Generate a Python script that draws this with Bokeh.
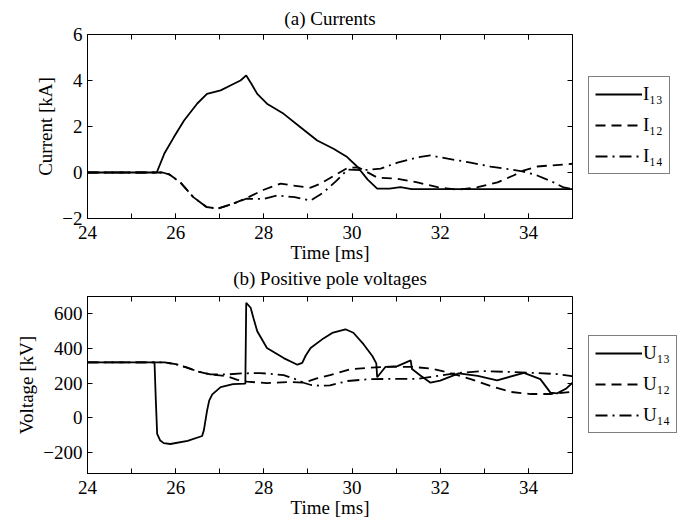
from bokeh.plotting import figure
from bokeh.models import (Range1d, LinearAxis, FixedTicker, CustomJSTickFormatter,
                          Legend, LegendItem, Title)
from bokeh.layouts import column, row
from bokeh.embed import file_html
from bokeh.resources import INLINE

# ---------------- data ----------------
# (a) Currents [kA]
t_i13 = [24, 25.57, 25.75, 25.96, 26.19, 26.49, 26.71, 27.02, 27.32, 27.47, 27.6, 27.72,
         27.85, 28.07, 28.45, 28.83, 29.21, 29.58, 29.89, 30.12, 30.35, 30.57, 30.85,
         31.1, 31.35, 35]
i13 = [0, 0, 0.85, 1.54, 2.26, 3.0, 3.42, 3.57, 3.86, 4.0, 4.22, 3.85,
       3.42, 2.99, 2.55, 1.97, 1.39, 1.03, 0.67, 0.25, -0.3, -0.7, -0.7,
       -0.64, -0.72, -0.72]

t_i12 = [24, 25.7, 25.85, 26.1, 26.4, 26.7, 26.95, 27.3, 27.6, 28.0, 28.38, 28.67, 29.06,
         29.3, 29.6, 29.9, 30.15, 30.57, 31.03, 31.48, 31.94, 32.39, 32.85, 33.3, 33.66,
         33.9, 34.2, 34.8, 35]
i12 = [0, 0, -0.08, -0.42, -1.07, -1.5, -1.57, -1.36, -1.12, -0.75, -0.48, -0.57, -0.66,
       -0.47, -0.13, 0.2, 0.22, -0.22, -0.27, -0.43, -0.64, -0.75, -0.64, -0.43, -0.13,
       0.09, 0.26, 0.35, 0.38]

t_i14 = [24, 25.7, 25.85, 26.1, 26.4, 26.7, 26.95, 27.3, 27.6, 28.0, 28.3, 28.7, 29.06,
         29.35, 29.65, 29.9, 30.25, 30.65, 31.03, 31.55, 31.78, 32.17, 32.69, 33.14, 33.6,
         33.89, 34.2, 34.57, 34.8, 35]
i14 = [0, 0, -0.08, -0.42, -1.07, -1.5, -1.57, -1.36, -1.14, -1.15, -1.0, -1.07, -1.22,
       -0.87, -0.35, 0.13, 0.1, 0.17, 0.43, 0.68, 0.74, 0.6, 0.43, 0.26, 0.13,
       0.04, -0.13, -0.43, -0.65, -0.72]

# (b) Positive pole voltages [kV]
t_u13 = [24, 25.52, 25.55, 25.58, 25.65, 25.73, 25.88, 26.27, 26.6, 26.64, 26.71, 26.76,
         26.83, 27.02, 27.3, 27.58, 27.6, 27.7, 27.77, 27.85, 28.07, 28.45, 28.76, 28.87,
         28.95, 29.06, 29.36, 29.55, 29.85, 30.03, 30.26, 30.46, 30.55, 30.57, 30.76,
         31.03, 31.33, 31.36, 31.55, 31.78, 32.0, 32.42, 32.85, 33.29, 33.9, 34.27, 34.5,
         34.65, 34.85, 35]
u13 = [320, 320, 100, -92, -130, -145, -150, -132, -104, -70, 40, 100,
       136, 178, 195, 198, 664, 635, 570, 500, 403, 345, 307, 317,
       360, 403, 460, 490, 511, 491, 425, 357, 315, 235, 295,
       299, 332, 282, 245, 203, 215, 257, 242, 217, 260, 224, 146,
       142, 168, 203]

t_u12 = [24, 25.75, 26.0, 26.26, 26.5, 26.79, 27.0, 27.17, 27.4, 27.62, 28.07, 28.6, 28.9,
         29.2, 29.5, 29.96, 30.4, 30.87, 31.33, 31.78, 32.23, 32.69, 33.14, 33.6, 34.05,
         34.5, 34.95, 35]
u12 = [320, 320, 310, 290, 268, 251, 245, 240, 220, 209, 201, 207, 203,
       228, 247, 280, 290, 295, 295, 285, 259, 224, 184, 150, 138,
       138, 150, 152]

t_u14 = [24, 25.75, 26.0, 26.26, 26.5, 26.79, 27.17, 27.5, 27.92, 28.45, 28.7, 28.9, 29.07,
         29.3, 29.5, 29.9, 30.4, 30.87, 31.48, 31.94, 32.39, 32.98, 33.6, 34.2, 34.65,
         34.95, 35]
u14 = [320, 320, 310, 290, 268, 251, 251, 257, 259, 247, 225, 203, 190,
       185, 188, 213, 224, 225, 225, 242, 259, 270, 265, 259, 253,
       242, 240]

x_major = [24, 26, 28, 30, 32, 34]
x_minor = [24, 25, 26, 27, 28, 29, 30, 31, 32, 33, 34, 35]
yticks_a = [-2, 0, 2, 4, 6]
yticks_b = [-200, 0, 200, 400, 600]
labels_a = ["I\u2081\u2083", "I\u2081\u2082", "I\u2081\u2084"]
labels_b = ["U\u2081\u2083", "U\u2081\u2082", "U\u2081\u2084"]
title_a = "(a) Currents"
title_b = "(b) Positive pole voltages"

FONT = "Liberation Serif"
FS = "19px"
MAIN_W = 577      # frame from x=87 to x=572
LEG_W = 110
NAN = float("nan")

MINUS_FMT = "return tick < 0 ? '\\u2212' + String(-tick) : String(tick);"
EMPTY_FMT = "return '';"

LW = 1.8
STYLES = [dict(line_color="black", line_width=LW),
          dict(line_color="black", line_width=LW, line_dash="10 6"),
          dict(line_color="black", line_width=LW, line_dash="12 5 2 5")]


def style_axis(ax, labels=True):
    ax.axis_line_color = "black"
    ax.axis_line_width = 1
    ax.major_tick_line_color = "black"
    ax.minor_tick_line_color = "black"
    ax.major_tick_in = 5
    ax.major_tick_out = 0
    ax.minor_tick_in = 5
    ax.minor_tick_out = 0
    ax.major_label_text_font = FONT
    ax.major_label_text_font_size = FS
    ax.major_label_text_color = "black"
    ax.axis_label_text_font = FONT
    ax.axis_label_text_font_size = FS
    ax.axis_label_text_font_style = "normal"
    ax.axis_label_text_color = "black"
    if not labels:
        ax.formatter = CustomJSTickFormatter(code=EMPTY_FMT)
        ax.major_label_text_font_size = "0px"
        ax.major_label_standoff = 0


def make_title(text, standoff):
    return Title(text=text, align="center", text_font=FONT, text_font_size=FS,
                 text_font_style="normal", text_color="black", standoff=standoff, offset=0)


def make_fig(height, top, bottom, yr, yticks, ylabel, label_standoff):
    p = figure(width=MAIN_W, height=height, output_backend="svg", toolbar_location=None,
               x_range=Range1d(24, 35), y_range=Range1d(*yr),
               min_border_left=87, min_border_right=MAIN_W - 572,
               min_border_top=top, min_border_bottom=bottom,
               x_axis_label="Time [ms]", y_axis_label=ylabel)
    p.xgrid.visible = False
    p.ygrid.visible = False
    p.outline_line_color = "black"
    p.outline_line_width = 1
    p.background_fill_color = "white"
    p.border_fill_color = "white"

    xa = p.xaxis[0]
    xa.ticker = FixedTicker(ticks=x_major, minor_ticks=x_minor)
    style_axis(xa)
    xa.major_label_standoff = 7
    xa.axis_label_standoff = label_standoff

    ya = p.yaxis[0]
    ya.ticker = FixedTicker(ticks=yticks, minor_ticks=[])
    style_axis(ya)
    ya.formatter = CustomJSTickFormatter(code=MINUS_FMT)
    ya.major_label_standoff = 5
    ya.axis_label_standoff = 3

    top_ax = LinearAxis(ticker=FixedTicker(ticks=x_major, minor_ticks=x_minor))
    style_axis(top_ax, labels=False)
    top_ax.axis_line_color = None
    p.add_layout(top_ax, "above")

    right_ax = LinearAxis(ticker=FixedTicker(ticks=yticks, minor_ticks=[]))
    style_axis(right_ax, labels=False)
    right_ax.axis_line_color = None
    p.add_layout(right_ax, "right")
    return p


def legend_fig(height, labels, loc, label_w):
    # legend-only panel; its frame is aligned with the neighbouring plot's frame
    q = figure(width=LEG_W, height=height, output_backend="svg", toolbar_location=None,
               x_range=Range1d(0, 1), y_range=Range1d(0, 1), min_border=0,
               x_axis_location=None, y_axis_location=None)
    q.xgrid.visible = False
    q.ygrid.visible = False
    q.outline_line_color = None
    q.background_fill_color = "white"
    q.border_fill_color = "white"
    rs = [q.line([NAN, NAN], [NAN, NAN], **st) for st in STYLES]
    items = [LegendItem(label=lab, renderers=[r]) for lab, r in zip(labels, rs)]
    lg = Legend(items=items, location=loc, margin=0, padding=6, spacing=9,
                glyph_width=47, glyph_height=22, label_height=22, label_width=label_w,
                label_standoff=1, border_line_color="black", border_line_width=1,
                background_fill_color="white", background_fill_alpha=1.0,
                label_text_font=FONT, label_text_font_size=FS, label_text_color="black")
    q.add_layout(lg)
    return q


# ---------------- (a) Currents  (also carries the title of (b) below it) ----------------
H_A = 291
pa = make_fig(H_A, 34, H_A - 218, (-2, 6), yticks_a, "Current [kA]", 0)
pa.add_layout(make_title(title_a, 11), "above")
pa.add_layout(make_title(title_b, 0), "below")
pa.line(t_i13, i13, **STYLES[0])
pa.line(t_i12, i12, **STYLES[1])
pa.line(t_i14, i14, **STYLES[2])
la = legend_fig(H_A, labels_a, (588 - MAIN_W, 218 - 174), 16)

# ---------------- (b) Positive pole voltages ----------------
H_B = 520 - H_A
pb = make_fig(H_B, 296 - H_A, H_B - (473 - H_A), (-320, 700), yticks_b, "Voltage [kV]", 0)
pb.line(t_u13, u13, **STYLES[0])
pb.line(t_u12, u12, **STYLES[1])
pb.line(t_u14, u14, **STYLES[2])
lb = legend_fig(H_B, labels_b, (588 - MAIN_W, 473 - 433), 22)

layout = column(row(pa, la, spacing=0), row(pb, lb, spacing=0), spacing=0)
open("out.html", "w").write(file_html(layout, INLINE))
